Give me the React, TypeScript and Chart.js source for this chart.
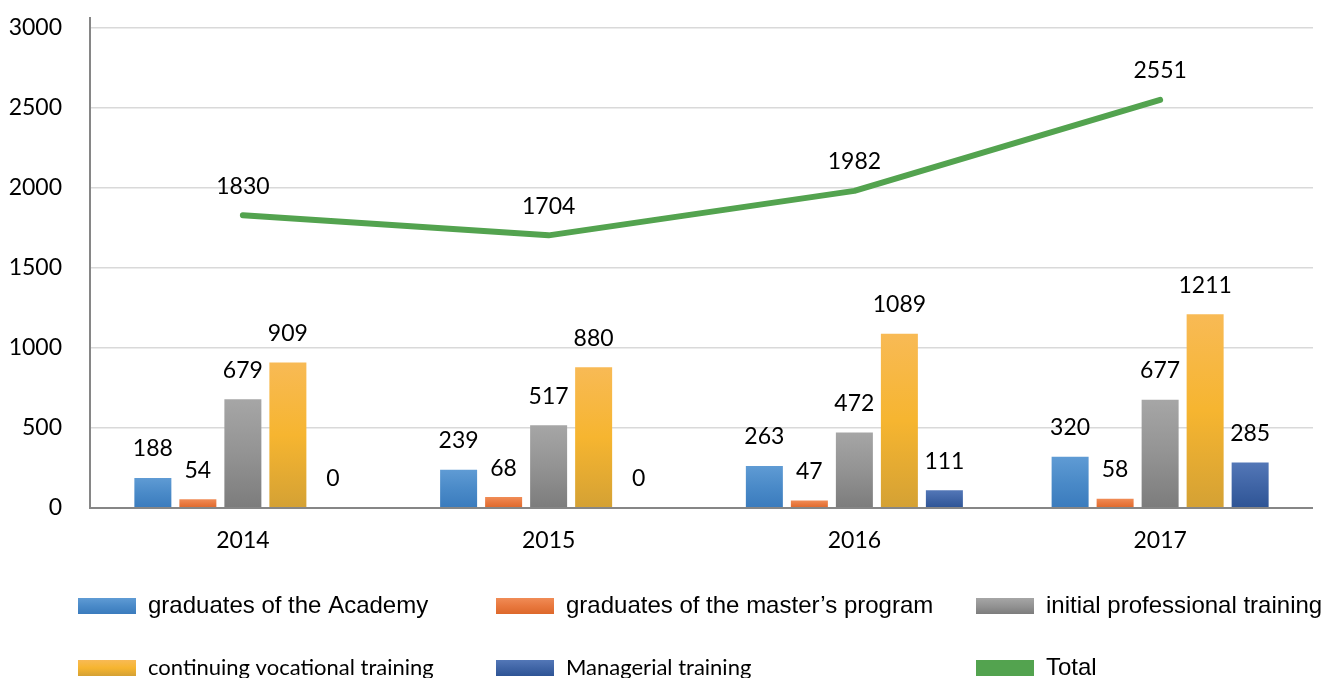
import React, { useEffect, useRef } from "react";
import { Chart, registerables } from "chart.js";

Chart.register(...registerables);

const years = ["2014", "2015", "2016", "2017"];
const academy = [188, 239, 263, 320];
const masters = [54, 68, 47, 58];
const initialTraining = [679, 517, 472, 677];
const continuing = [909, 880, 1089, 1211];
const managerial = [0, 0, 111, 285];
const total = [1830, 1704, 1982, 2551];

const seriesNames = [
  "graduates of the Academy",
  "graduates of the master\u2019s program",
  "initial professional training",
  "continuing vocational training",
  "Managerial training",
  "Total",
];

const yMin = 0;
const yMax = 3000;
const yStep = 500;

const palette = [
  ["#5f9bd4", "#4a8ac8", "#3a7bbd"],
  ["#f08c56", "#e8783e", "#dd682b"],
  ["#a6a6a6", "#939393", "#7c7c7c"],
  ["#f8ba55", "#f6b530", "#d4a134"],
  ["#5377b7", "#4065a6", "#2e5495"],
];
const green = "#53a34f";

const LABEL_FONT = "Lato, 'Open Sans', sans-serif";

function gradientFor(stops: string[]) {
  return (c: any) => {
    const chart = c.chart;
    const y = chart.scales && chart.scales.y;
    if (!chart.chartArea || !y || c.type !== "data") return stops[1];
    const v = c.raw as number;
    const y0 = y.getPixelForValue(0);
    const y1 = y.getPixelForValue(v);
    if (Math.abs(y0 - y1) < 1) return stops[1];
    const g = chart.ctx.createLinearGradient(0, y1, 0, y0);
    g.addColorStop(0, stops[0]);
    g.addColorStop(0.5, stops[1]);
    g.addColorStop(1, stops[2]);
    return g;
  };
}

const axisPlugin = {
  id: "axisLines",
  afterDatasetsDraw(chart: any) {
    const { ctx, chartArea } = chart;
    ctx.save();
    ctx.strokeStyle = "#868686";
    ctx.lineWidth = 2;
    ctx.beginPath();
    ctx.moveTo(chartArea.left, chartArea.top - 11);
    ctx.lineTo(chartArea.left, chartArea.bottom);
    ctx.lineTo(chartArea.right, chartArea.bottom);
    ctx.stroke();
    ctx.restore();
  },
};

const labelPlugin = {
  id: "valueLabels",
  afterDraw(chart: any) {
    const { ctx } = chart;
    ctx.save();
    ctx.font = `23px ${LABEL_FONT}`;
    ctx.fillStyle = "#000";
    ctx.textAlign = "center";
    ctx.textBaseline = "middle";
    chart.data.datasets.forEach((ds: any, i: number) => {
      const meta = chart.getDatasetMeta(i);
      meta.data.forEach((el: any, j: number) => {
        const v = ds.data[j];
        ctx.fillText(String(v), el.x, el.y - 29);
      });
    });
    ctx.restore();
  },
};

const legendPlugin = {
  id: "gridLegend",
  afterDraw(chart: any) {
    const { ctx } = chart;
    const cols = [78, 496, 976];
    const rows = [606, 668];
    const fonts = [
      "24px 'Liberation Sans', Arial, sans-serif",
      "24px 'Liberation Sans', Arial, sans-serif",
      "24px 'Liberation Sans', Arial, sans-serif",
      `22px ${LABEL_FONT}`,
      `22px ${LABEL_FONT}`,
      "24px 'Liberation Sans', Arial, sans-serif",
    ];
    ctx.save();
    seriesNames.forEach((name, i) => {
      const x = cols[i % 3];
      const yc = rows[Math.floor(i / 3)];
      const top = yc - 8;
      if (i < 5) {
        const g = ctx.createLinearGradient(0, top, 0, top + 16);
        g.addColorStop(0, palette[i][0]);
        g.addColorStop(0.5, palette[i][1]);
        g.addColorStop(1, palette[i][2]);
        ctx.fillStyle = g;
      } else {
        ctx.fillStyle = green;
      }
      ctx.fillRect(x, top, 58, 16);
      ctx.fillStyle = "#000";
      ctx.font = fonts[i];
      ctx.textAlign = "left";
      ctx.textBaseline = "middle";
      ctx.fillText(name, x + 70, yc);
    });
    ctx.restore();
  },
};

export default function App() {
  const canvasRef = useRef<HTMLCanvasElement | null>(null);

  useEffect(() => {
    if (!canvasRef.current) return;
    const barSeries = [academy, masters, initialTraining, continuing, managerial];
    const datasets: any[] = barSeries.map((data, i) => ({
      type: "bar",
      label: seriesNames[i],
      data,
      backgroundColor: gradientFor(palette[i]),
      borderWidth: 0,
      barPercentage: 0.822,
      categoryPercentage: 0.736,
      order: 2,
    }));
    datasets.push({
      type: "line",
      label: seriesNames[5],
      data: total,
      borderColor: green,
      backgroundColor: green,
      borderWidth: 6,
      borderCapStyle: "round",
      borderJoinStyle: "round",
      pointRadius: 0,
      pointHoverRadius: 0,
      tension: 0,
      fill: false,
      order: 1,
    });

    const chart = new Chart(canvasRef.current, {
      type: "bar",
      data: { labels: years, datasets },
      options: {
        responsive: false,
        animation: false,
        layout: { padding: { top: 28, right: 11, bottom: 120, left: 0 } },
        plugins: {
          legend: { display: false },
          tooltip: { enabled: false },
        },
        scales: {
          x: {
            grid: { display: false, drawTicks: false },
            border: { display: false },
            ticks: {
              color: "#000",
              font: { family: LABEL_FONT, size: 23 },
              padding: 19,
            },
            afterFit: (s: any) => {
              s.height = 50;
            },
          },
          y: {
            min: yMin,
            max: yMax,
            grid: { color: "#d9d9d9", lineWidth: 1.5, drawTicks: false },
            border: { display: false },
            ticks: {
              stepSize: yStep,
              color: "#000",
              font: { family: LABEL_FONT, size: 23 },
              padding: 28,
              callback: (v: any) => String(v),
            },
            afterFit: (s: any) => {
              s.width = 90;
              s.paddingTop = 0;
              s.paddingBottom = 0;
            },
          },
        },
      },
      plugins: [axisPlugin, labelPlugin, legendPlugin],
    } as any);
    return () => chart.destroy();
  }, []);

  return (
    <div style={{ position: "absolute", left: 0, top: 0, width: 1324, height: 678, background: "#fff" }}>
      <canvas ref={canvasRef} width={1324} height={678} style={{ display: "block" }} />
    </div>
  );
}
